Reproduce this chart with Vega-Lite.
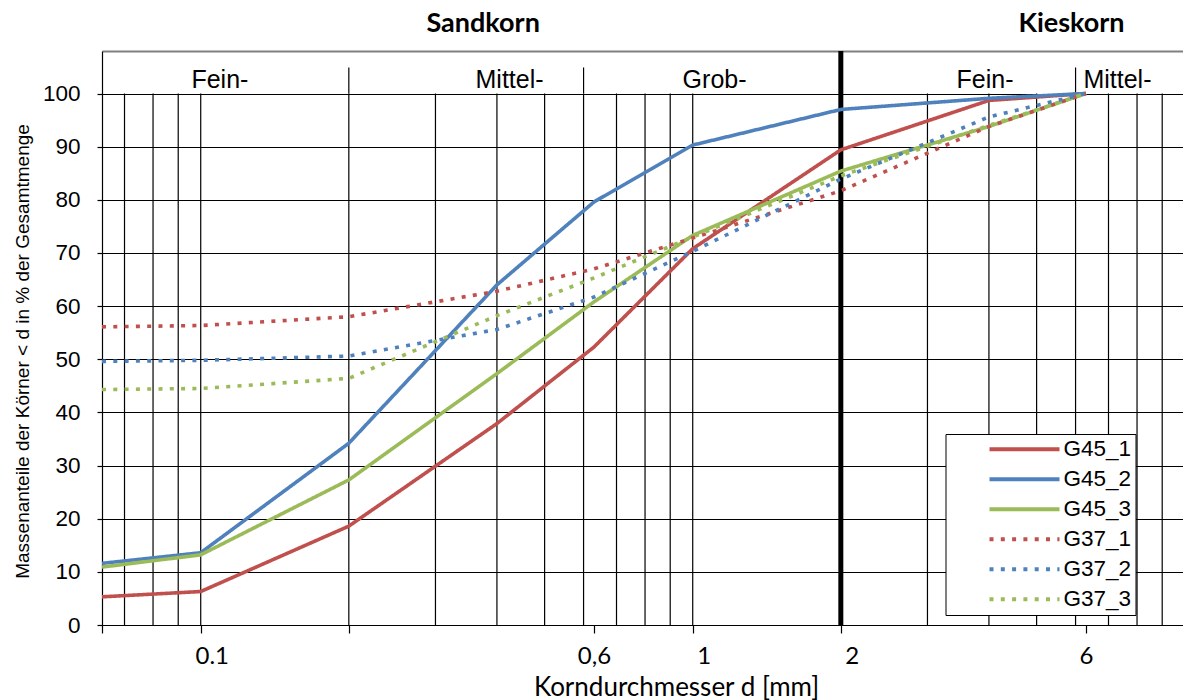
{
  "$schema": "https://vega.github.io/schema/vega-lite/v6.json",
  "width": 1081,
  "height": 574,
  "autosize": {"type": "none"},
  "padding": {"left": 102, "top": 51, "right": 0, "bottom": 75},
  "background": "white",
  "config": {"view": {"stroke": null}},
  "datasets": {
    "vgrid": [
      {"d": 0.07}, {"d": 0.08}, {"d": 0.09}, {"d": 0.1}, {"d": 0.2}, {"d": 0.3}, {"d": 0.4}, {"d": 0.5},
      {"d": 0.6}, {"d": 0.7}, {"d": 0.8}, {"d": 0.9}, {"d": 1}, {"d": 3}, {"d": 4}, {"d": 5},
      {"d": 6}, {"d": 7}, {"d": 8}, {"d": 9}
    ],
    "hsep": [{"d": 0.2}, {"d": 0.6}, {"d": 6}],
    "bound": [{"d": 2}],
    "heads": [
      {"d": 0.375, "p": 113, "t": "Sandkorn"},
      {"d": 5.886, "p": 113, "t": "Kieskorn"}
    ],
    "subs": [
      {"d": 0.1094, "p": 102.5, "t": "Fein-"},
      {"d": 0.4243, "p": 102.5, "t": "Mittel-"},
      {"d": 1.1077, "p": 102.5, "t": "Grob-"},
      {"d": 3.927, "p": 102.5, "t": "Fein-"},
      {"d": 7.3, "p": 102.5, "t": "Mittel-"}
    ],
    "curves": [
      {"s": "G45_1", "d": 0.063, "p": 5.3}, {"s": "G45_1", "d": 0.1, "p": 6.3}, {"s": "G45_1", "d": 0.2, "p": 18.6},
      {"s": "G45_1", "d": 0.4, "p": 37.9}, {"s": "G45_1", "d": 0.63, "p": 52.3}, {"s": "G45_1", "d": 1, "p": 70.8},
      {"s": "G45_1", "d": 2, "p": 89.4}, {"s": "G45_1", "d": 4, "p": 98.7}, {"s": "G45_1", "d": 6.3, "p": 100},
      {"s": "G45_2", "d": 0.063, "p": 11.6}, {"s": "G45_2", "d": 0.1, "p": 13.6}, {"s": "G45_2", "d": 0.2, "p": 34.2},
      {"s": "G45_2", "d": 0.4, "p": 64.0}, {"s": "G45_2", "d": 0.63, "p": 79.6}, {"s": "G45_2", "d": 1, "p": 90.3},
      {"s": "G45_2", "d": 2, "p": 97.0}, {"s": "G45_2", "d": 4, "p": 99.1}, {"s": "G45_2", "d": 6.3, "p": 100},
      {"s": "G45_3", "d": 0.063, "p": 10.9}, {"s": "G45_3", "d": 0.1, "p": 13.2}, {"s": "G45_3", "d": 0.2, "p": 27.3},
      {"s": "G45_3", "d": 0.4, "p": 47.3}, {"s": "G45_3", "d": 0.63, "p": 60.8}, {"s": "G45_3", "d": 1, "p": 73.3},
      {"s": "G45_3", "d": 2, "p": 85.4}, {"s": "G45_3", "d": 4, "p": 93.8}, {"s": "G45_3", "d": 6.3, "p": 100},
      {"s": "G37_1", "d": 0.063, "p": 56.1}, {"s": "G37_1", "d": 0.1, "p": 56.35}, {"s": "G37_1", "d": 0.2, "p": 58.0},
      {"s": "G37_1", "d": 0.4, "p": 62.8}, {"s": "G37_1", "d": 0.63, "p": 67.0}, {"s": "G37_1", "d": 1, "p": 72.8},
      {"s": "G37_1", "d": 2, "p": 81.7}, {"s": "G37_1", "d": 4, "p": 93.8}, {"s": "G37_1", "d": 6.3, "p": 100},
      {"s": "G37_2", "d": 0.063, "p": 49.6}, {"s": "G37_2", "d": 0.1, "p": 49.8}, {"s": "G37_2", "d": 0.2, "p": 50.6},
      {"s": "G37_2", "d": 0.4, "p": 55.6}, {"s": "G37_2", "d": 0.63, "p": 61.7}, {"s": "G37_2", "d": 1, "p": 70.3},
      {"s": "G37_2", "d": 2, "p": 83.9}, {"s": "G37_2", "d": 4, "p": 95.6}, {"s": "G37_2", "d": 6.3, "p": 100},
      {"s": "G37_3", "d": 0.063, "p": 44.3}, {"s": "G37_3", "d": 0.1, "p": 44.5}, {"s": "G37_3", "d": 0.2, "p": 46.4},
      {"s": "G37_3", "d": 0.4, "p": 58.2}, {"s": "G37_3", "d": 0.63, "p": 65.3}, {"s": "G37_3", "d": 1, "p": 73.0},
      {"s": "G37_3", "d": 2, "p": 84.5}, {"s": "G37_3", "d": 4, "p": 94.0}, {"s": "G37_3", "d": 6.3, "p": 100}
    ]
  },
  "encoding": {
    "x": {
      "field": "d",
      "type": "quantitative",
      "scale": {"type": "log", "domain": [0.063, 9.92], "nice": false},
      "axis": {
        "values": [0.063, 0.1, 0.2, 0.63, 1, 2, 6.3],
        "grid": false,
        "domainColor": "black",
        "domainWidth": 1.2,
        "tickColor": "black",
        "tickWidth": 1.2,
        "tickSize": 8,
        "labelExpr": "datum.value == 0.1 ? '0.1' : datum.value == 0.63 ? '0,6' : datum.value == 1 ? '1' : datum.value == 2 ? '2' : datum.value == 6.3 ? '6' : ''",
        "labelFont": "Lato",
        "labelFontSize": 24,
        "labelColor": "black",
        "labelPadding": 11,
        "labelOffset": {"condition": {"test": "datum.value == 0.1 || datum.value == 1 || datum.value == 2", "value": 11}, "value": 0},
        "labelOverlap": false,
        "labelFlush": false,
        "labelBound": false,
        "title": "Korndurchmesser d [mm]",
        "titleFont": "Lato",
        "titleFontSize": 26,
        "titleFontWeight": "normal",
        "titleColor": "black",
        "titleX": 574,
        "titleY": 70,
        "titleAlign": "center",
        "titleBaseline": "alphabetic"
      }
    }
  },
  "layer": [
    {
      "data": {"name": "vgrid"},
      "mark": {"type": "rule", "color": "black", "strokeWidth": 1.2},
      "encoding": {"y": {"datum": 0, "type": "quantitative"}, "y2": {"datum": 100}}
    },
    {
      "data": {"name": "hsep"},
      "mark": {"type": "rule", "color": "black", "strokeWidth": 1.2},
      "encoding": {"y": {"datum": 100, "type": "quantitative"}, "y2": {"datum": 104.9}}
    },
    {
      "data": {"name": "bound"},
      "mark": {"type": "rule", "color": "black", "strokeWidth": 5},
      "encoding": {"y": {"datum": 0, "type": "quantitative"}, "y2": {"datum": 108}}
    },
    {
      "data": {"name": "curves"},
      "mark": {"type": "line", "strokeWidth": 3.6, "strokeJoin": "round"},
      "encoding": {
        "y": {
          "field": "p",
          "type": "quantitative",
          "scale": {"domain": [0, 108], "nice": false, "zero": false},
          "axis": {
            "values": [0, 10, 20, 30, 40, 50, 60, 70, 80, 90, 100, 108],
            "grid": true,
            "gridColor": {"condition": {"test": "datum.value > 100", "value": "#808080"}, "value": "black"},
            "gridWidth": {"condition": {"test": "datum.value > 100", "value": 2}, "value": 1.2},
            "domainColor": "black",
            "domainWidth": 1.2,
            "tickColor": "black",
            "tickWidth": 1.2,
            "tickSize": 5,
            "tickOpacity": {"condition": {"test": "datum.value > 100", "value": 0}, "value": 1},
            "labelExpr": "datum.value > 100 ? '' : datum.label",
            "labelFont": "Liberation Sans",
            "labelFontSize": 22.5,
            "labelColor": "black",
            "labelPadding": 17,
            "title": "Massenanteile der Körner < d in % der Gesamtmenge",
            "titleFont": "Liberation Sans",
            "titleFontSize": 19,
            "titleFontWeight": "normal",
            "titleColor": "black",
            "titleX": -80,
            "titleY": 300,
            "titleAngle": 270,
            "titleAlign": "center",
            "titleBaseline": "middle"
          }
        },
        "color": {
          "field": "s",
          "type": "nominal",
          "scale": {
            "domain": ["G45_1", "G45_2", "G45_3", "G37_1", "G37_2", "G37_3"],
            "range": ["#C0504D", "#4F81BD", "#9BBB59", "#C0504D", "#4F81BD", "#9BBB59"]
          },
          "legend": {
            "title": null,
            "orient": "none",
            "legendX": 843.5,
            "legendY": 383,
            "symbolType": "stroke",
            "symbolSize": 4900,
            "symbolStrokeWidth": 4,
            "symbolOffset": 38,
            "labelOffset": 2,
            "labelFont": "Liberation Sans",
            "labelFontSize": 22.5,
            "labelColor": "black",
            "labelExpr": "datum.label + '\u00a0\u00a0\u00a0\u00a0\u00a0\u00a0\u00a0\u00a0'",
            "clipHeight": 22.6,
            "padding": 4,
            "rowPadding": 7,
            "strokeColor": "black",
            "fillColor": "white",
            "cornerRadius": 0
          }
        },
        "strokeDash": {
          "field": "s",
          "type": "nominal",
          "scale": {
            "domain": ["G45_1", "G45_2", "G45_3", "G37_1", "G37_2", "G37_3"],
            "range": [[1, 0], [1, 0], [1, 0], [4, 7.3], [4, 7.3], [4, 7.3]]
          },
          "legend": {
            "title": null,
            "orient": "none",
            "legendX": 843.5,
            "legendY": 383,
            "symbolType": "stroke",
            "symbolSize": 4900,
            "symbolStrokeWidth": 4,
            "symbolOffset": 38,
            "labelOffset": 2,
            "labelFont": "Liberation Sans",
            "labelFontSize": 22.5,
            "labelColor": "black",
            "labelExpr": "datum.label + '\u00a0\u00a0\u00a0\u00a0\u00a0\u00a0\u00a0\u00a0'",
            "clipHeight": 22.6,
            "padding": 4,
            "rowPadding": 7,
            "strokeColor": "black",
            "fillColor": "white",
            "cornerRadius": 0
          }
        }
      }
    },
    {
      "data": {"name": "subs"},
      "mark": {"type": "text", "font": "Liberation Sans", "fontSize": 25, "color": "black", "align": "center", "baseline": "middle"},
      "encoding": {"y": {"field": "p", "type": "quantitative"}, "text": {"field": "t"}}
    },
    {
      "data": {"name": "heads"},
      "mark": {"type": "text", "font": "Lato", "fontSize": 27, "fontWeight": "bold", "color": "black", "align": "center", "baseline": "middle"},
      "encoding": {"y": {"field": "p", "type": "quantitative"}, "text": {"field": "t"}}
    }
  ]
}
